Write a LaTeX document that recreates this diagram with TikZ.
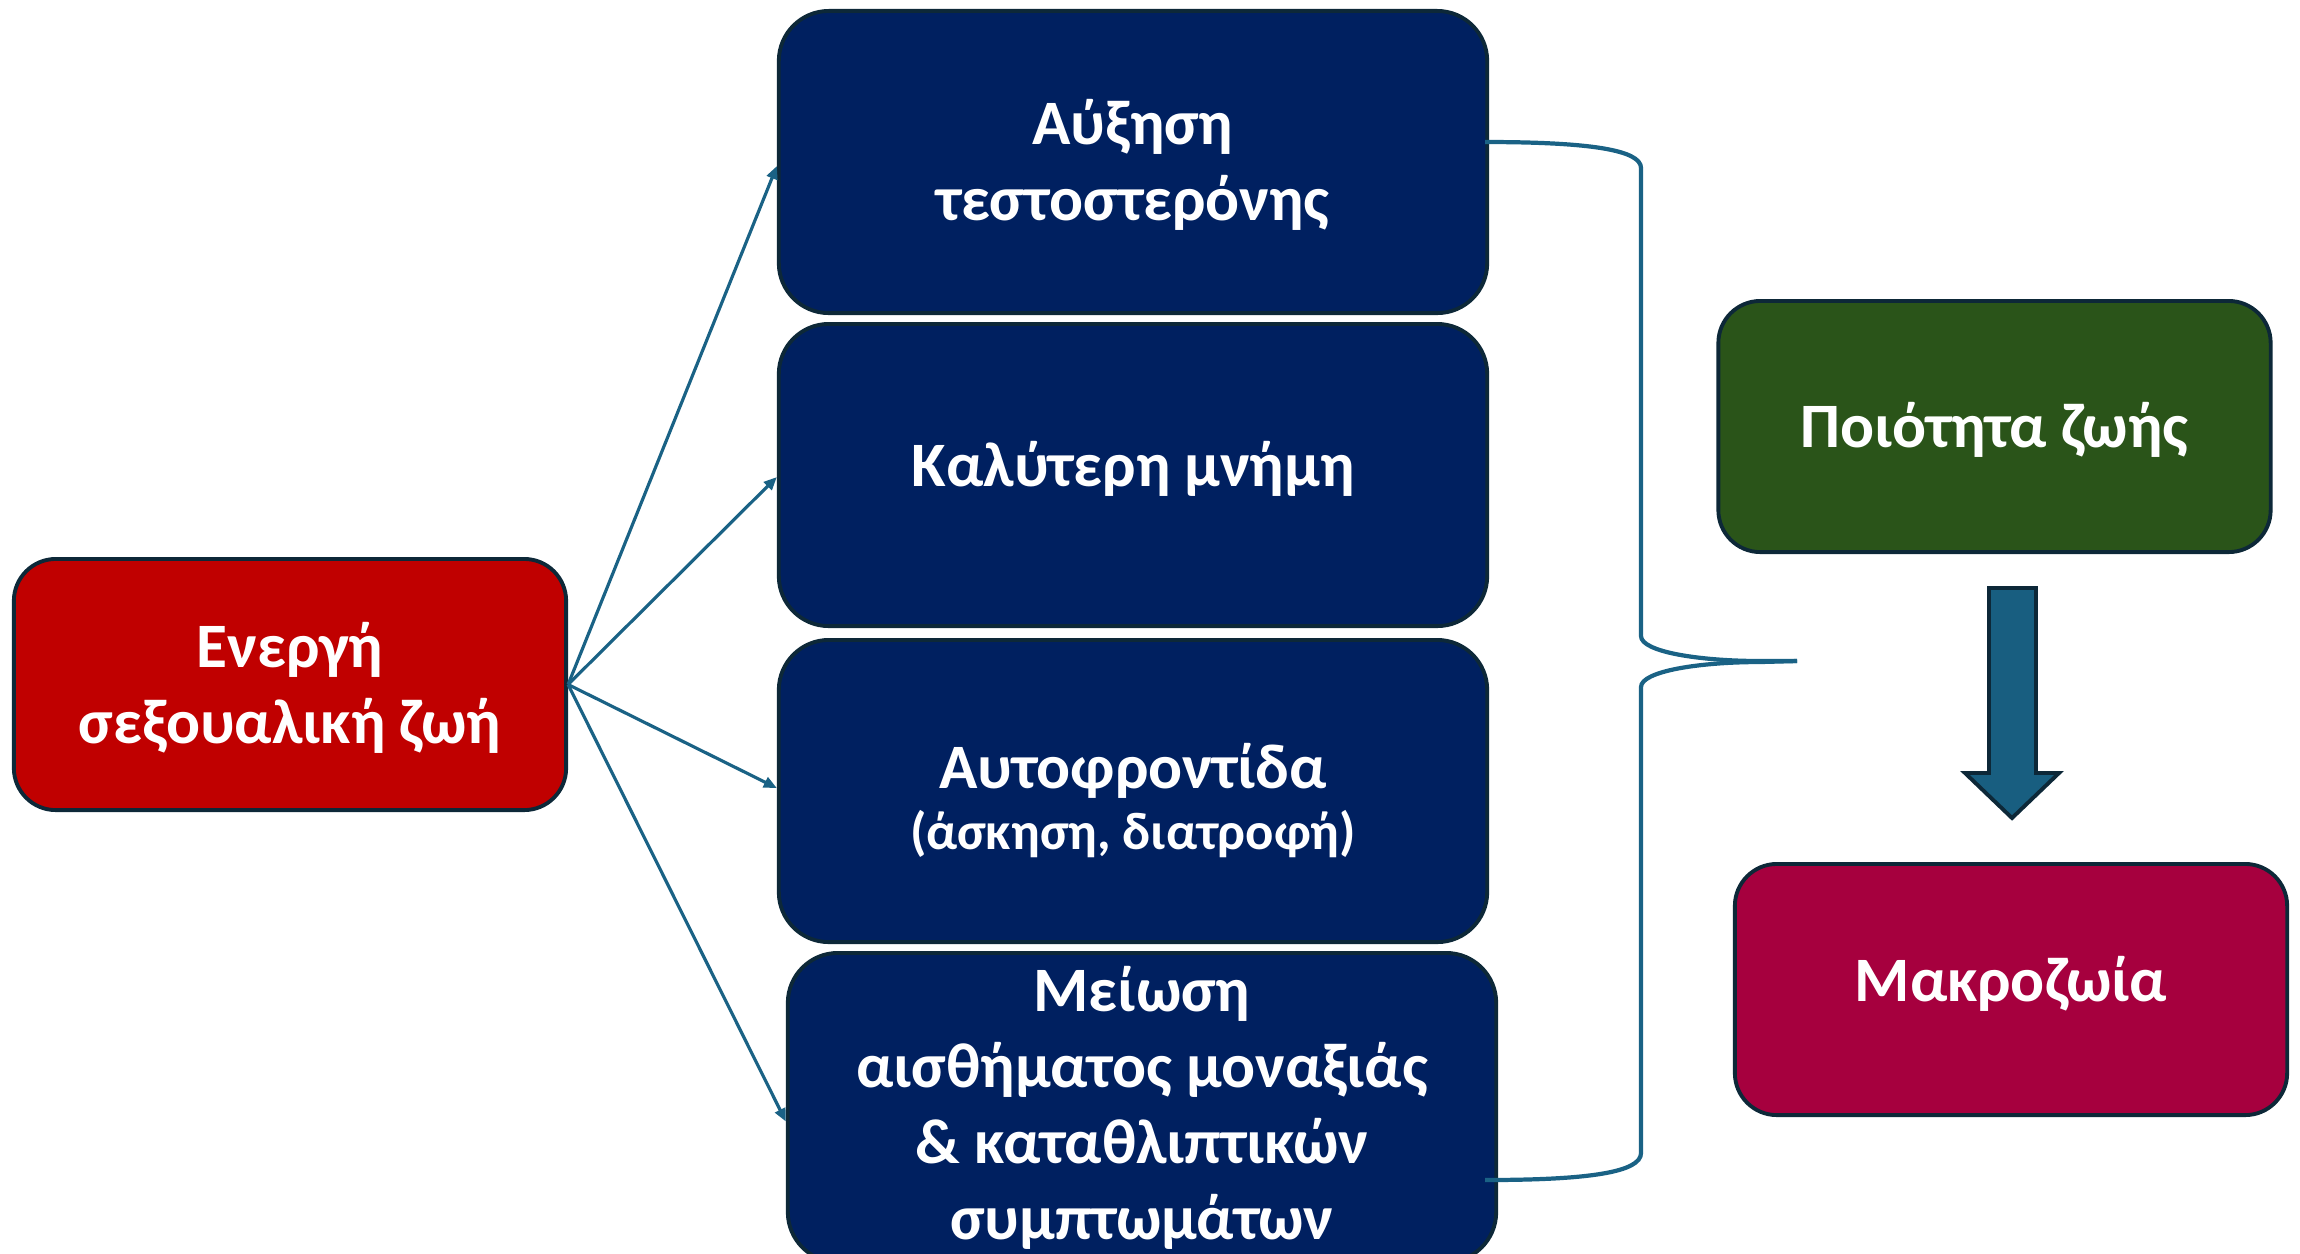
\documentclass[tikz,border=0pt]{standalone}
\usepackage{fontspec}
\setmainfont{Carlito}
\usetikzlibrary{arrows.meta,calc}
\definecolor{navybox}{HTML}{002060}
\definecolor{redbox}{HTML}{C00000}
\definecolor{greenbox}{HTML}{2A5419}
\definecolor{maroonbox}{HTML}{A6003E}
\definecolor{edgedark}{HTML}{0D2838}
\definecolor{linkblue}{HTML}{1A6285}
\definecolor{arrowfill}{HTML}{185E80}
\begin{document}
\begin{tikzpicture}[x=0.01cm,y=-0.01cm,
  box/.style={draw=edgedark, line width=1.1pt, inner sep=0pt},
  bigbox/.style={box, fill=navybox, minimum width=7.08cm, minimum height=3.02cm, rounded corners=0.5cm},
  smallbox/.style={box, minimum width=5.52cm, minimum height=2.51cm, rounded corners=0.42cm},
  txt/.style={text=white, align=center, inner sep=0pt,
    font=\bfseries\fontsize{18}{21.6}\selectfont},
  link/.style={draw=linkblue, line width=0.9pt, -{Triangle[length=0.13cm,width=0.11cm]}},
  bracestyle/.style={draw=linkblue, line width=1.2pt}
]
\useasboundingbox (0,0) rectangle (2300,1253);

\node[smallbox, fill=redbox] (red) at (290,684.5) {};
\node[txt] (redt) at ([yshift=-0.03cm]red.center) {Ενεργή\\σεξουαλική ζωή};

\node[bigbox] (b1) at (1133,162) {};
\node[txt] (b1t) at ([yshift=-0.03cm]b1.center) {Αύξηση\\τεστοστερόνης};
\node[bigbox] (b2) at (1133,475) {};
\node[txt] (b2t) at ([yshift=0.06cm]b2.center) {Καλύτερη μνήμη};
\node[bigbox] (b3) at (1133,791) {};
\node[txt] (b3t) at ([yshift=-0.095cm]b3.center) {Αυτοφροντίδα\\[-4.3pt]{\fontsize{15}{18}\selectfont (άσκηση, διατροφή)}};
\node[bigbox, minimum height=3.09cm] (b4) at (1142,1107.5) {};
\node[txt] (b4t) at (b4.center) {Μείωση\\αισθήματος μοναξιάς\\\& καταθλιπτικών\\συμπτωμάτων};

\node[smallbox, fill=greenbox] (qol) at (1994.5,426.5) {};
\node[txt] (qolt) at ([yshift=-0.03cm]qol.center) {Ποιότητα ζωής};
\node[smallbox, fill=maroonbox] (life) at (2011,989.5) {};
\node[txt] (lifet) at ([yshift=0.06cm]life.center) {Μακροζωία};

\draw[link] (red.east) -- ([yshift=-0.04cm]b1.west);
\draw[link] (red.east) -- ([yshift=-0.02cm]b2.west);
\draw[link] (red.east) -- ([yshift=0.03cm]b3.west);
\draw[link] (red.east) -- ([yshift=-0.14cm]b4.west);

% brace
\coordinate (tip) at (1797,661);
\draw[bracestyle] (1485,142) .. controls (1590,142) and (1641,150) .. (1641,168)
  -- (1641,636) .. controls (1641,652) and (1700,661) .. (1760,661) -- (tip);
\draw[bracestyle] (tip) -- (1760,662) .. controls (1700,662) and (1641,671) .. (1641,687)
  -- (1641,1153) .. controls (1641,1172) and (1590,1180) .. (1485,1180);

% block arrow
\draw[draw=edgedark, line width=1.1pt, fill=arrowfill, line join=miter]
  (1989,588) -- (2036,588) -- (2036,773) -- (2059,773) -- (2012,818)
  -- (1965,773) -- (1989,773) -- cycle;
\end{tikzpicture}
\end{document}
